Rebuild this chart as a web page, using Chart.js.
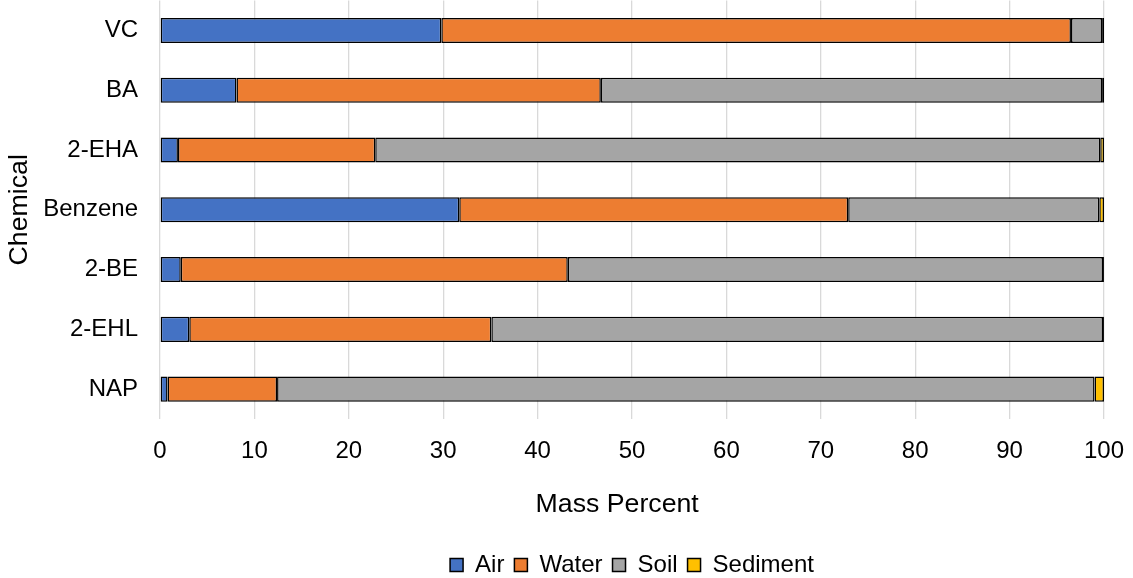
<!DOCTYPE html>
<html>
<head>
<meta charset="utf-8">
<title>Mass distribution by chemical</title>
<script src="https://cdn.jsdelivr.net/npm/chart.js@4.4.1/dist/chart.umd.min.js"></script>
<style>
  html, body { margin: 0; padding: 0; background: #fff; }
  #wrap { width: 1133px; height: 578px; }
</style>
</head>
<body>
<div id="wrap"><canvas id="massChart"></canvas></div>
<script>
// mass percent in each compartment, one entry per chemical
const chemicals = ["VC", "BA", "2-EHA", "Benzene", "2-BE", "2-EHL", "NAP"];
const air      = [29.8,  8.1,  1.9, 31.7,  2.2,  3.1,  0.8];
const water    = [66.7, 38.6, 20.9, 41.2, 41.0, 32.0, 11.6];
const soil     = [ 3.3, 53.1, 76.8, 26.6, 56.7, 64.8, 86.6];
const sediment = [ 0.2,  0.2,  0.4,  0.5,  0.1,  0.1,  1.0];

const xMin = 0, xMax = 100, xStep = 10;

const FONT = "'Liberation Sans', Arial, sans-serif";

function series(label, data, color) {
    return {
        label: label,
        data: data,
        backgroundColor: color,
        borderColor: "#000",
        borderWidth: 1.5,
        borderSkipped: false,
        categoryPercentage: 1,
        barPercentage: 0.42
    };
}

new Chart(document.getElementById("massChart").getContext("2d"), {
    type: "bar",
    data: {
        labels: chemicals,
        datasets: [
            series("Air", air, "#4472C4"),
            series("Water", water, "#ED7D31"),
            series("Soil", soil, "#A5A5A5"),
            series("Sediment", sediment, "#FFC000")
        ]
    },
    options: {
        indexAxis: "y",
        responsive: true,
        maintainAspectRatio: false,
        animation: false,
        layout: { padding: { top: 0, right: 29, left: 0, bottom: -9 } },
        scales: {
            x: {
                stacked: true,
                min: xMin,
                max: xMax,
                // spacing under the plot comes from invisible tick marks so the
                // right-hand padding stays tight
                ticks: { stepSize: xStep, color: "#000", font: { family: FONT, size: 24 }, padding: 0 },
                grid: { color: "#d9d9d9", lineWidth: 1.3, drawTicks: true, tickLength: 18, tickColor: "rgba(0,0,0,0)" },
                border: { display: false },
                title: {
                    display: true,
                    text: "Mass Percent    ",
                    color: "#000",
                    font: { family: FONT, size: 26.7 },
                    padding: { top: 0, bottom: 22 }
                },
                afterFit: function (axis) { axis.height = 124; }
            },
            y: {
                stacked: true,
                ticks: { color: "#000", font: { family: FONT, size: 24, lineHeight: 0.05 }, padding: 0 },
                grid: { display: false, drawTicks: true, tickLength: 22 },
                border: { display: false },
                title: {
                    display: true,
                    text: "Chemical",
                    color: "#000",
                    font: { family: FONT, size: 26.7 },
                    padding: { top: 4, bottom: 0 }
                },
                afterFit: function (axis) { axis.width = 160; }
            }
        },
        plugins: {
            legend: {
                position: "bottom",
                fullSize: false,
                labels: {
                    color: "#000",
                    font: { family: FONT, size: 24 },
                    boxWidth: 13,
                    boxHeight: 13,
                    padding: 10
                }
            },
            tooltip: { enabled: false }
        }
    }
});
</script>
</body>
</html>
